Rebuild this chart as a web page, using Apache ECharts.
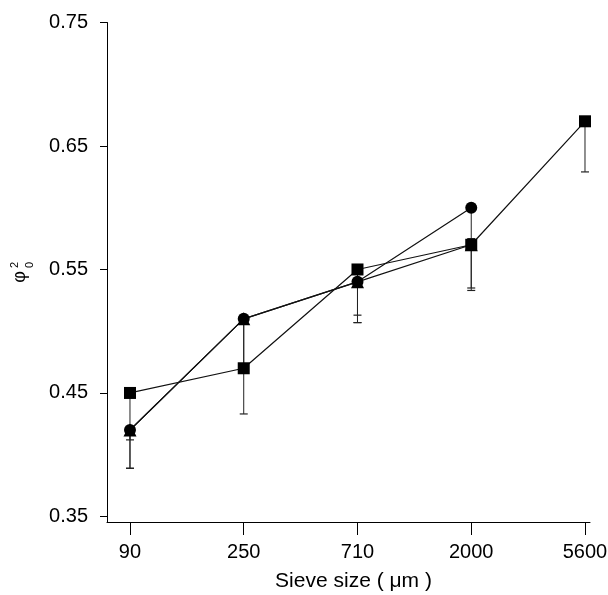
<!DOCTYPE html>
<html>
<head>
<meta charset="utf-8">
<script src="https://cdn.jsdelivr.net/npm/echarts@6/dist/echarts.min.js"></script>
<style>
  html, body { margin: 0; padding: 0; background: #fff; }
  #chart { width: 608px; height: 595px; }
</style>
</head>
<body>
<div id="chart"></div>
<script>
   // 数据部分
   var sieveLabels = ['90', '250', '710', '2000', '5600'];
   var sieveIdx = [0, 1, 2, 3, 4];
   var yTicks = [0.35, 0.45, 0.55, 0.65, 0.75];

   var squareVals = [0.45, 0.47, 0.55, 0.57, 0.67];
   var squareLow = [0.412, 0.433, 0.513, 0.535, 0.629];
   var circleVals = [0.42, 0.51, 0.54, 0.60];
   var circleLow = [0.389, 0.47, 0.507, 0.575];
   var triangleVals = [0.42, 0.51, 0.54, 0.57];
   var triangleLow = [0.389, 0.47, 0.507, 0.533];

   var font = 'Liberation Sans, Arial, sans-serif';

   function pts(vals) {
     return vals.map(function (v, i) { return [sieveIdx[i], v]; });
   }
   function bars(vals, lows) {
     return vals.map(function (v, i) { return [sieveIdx[i], v, lows[i]]; });
   }

   // 误差线 (只画下半部分)
   function errRender(params, api) {
     var top = api.coord([api.value(0), api.value(1)]);
     var low = api.coord([api.value(0), api.value(2)]);
     return {
       type: 'group',
       children: [
         { type: 'line', shape: { x1: top[0], y1: top[1], x2: low[0], y2: low[1] },
           style: { stroke: '#222', lineWidth: 1 } },
         { type: 'line', shape: { x1: low[0] - 4, y1: low[1], x2: low[0] + 4, y2: low[1] },
           style: { stroke: '#222', lineWidth: 1.2 } }
       ]
     };
   }

   function errSeries(vals, lows) {
     return { type: 'custom', renderItem: errRender, data: bars(vals, lows), z: 1, silent: true };
   }

   function lineSeries(vals, symbol, size) {
     return {
       type: 'line',
       data: pts(vals),
       symbol: symbol,
       symbolSize: size,
       showAllSymbol: true,
       lineStyle: { color: '#111', width: 1.2 },
       itemStyle: { color: '#000', borderWidth: 0 },
       z: 3,
       silent: true
     };
   }

   var myChart = echarts.init(document.getElementById('chart'));

   var option = {
     backgroundColor: '#fff',
     animation: false,
     grid: { left: 107, right: 18, top: 22.5, bottom: 73, containLabel: false, outerBoundsMode: 'none' },
     xAxis: {
       type: 'value',
       min: -0.202,
       max: 4.044,
       name: 'Sieve size ( \u03bcm )',
       nameLocation: 'middle',
       nameGap: 49,
       nameTextStyle: { color: '#000', fontSize: 21, fontFamily: font, padding: [0, 0, 0, 10] },
       axisLine: { onZero: false, lineStyle: { color: '#000', width: 1 } },
       axisTick: { show: true, length: 13, customValues: sieveIdx, lineStyle: { color: '#000' } },
       axisLabel: {
         customValues: sieveIdx,
         margin: 20,
         color: '#000',
         fontSize: 20,
         fontFamily: font,
         formatter: function (v) { return sieveLabels[Math.round(v)]; }
       },
       splitLine: { show: false }
     },
     yAxis: {
       type: 'value',
       min: 0.3455,
       max: 0.75,
       axisLine: { show: true, onZero: false, lineStyle: { color: '#000', width: 1 } },
       axisTick: { show: true, length: 7, customValues: yTicks, lineStyle: { color: '#000' } },
       axisLabel: {
         customValues: yTicks,
         margin: 19,
         color: '#000',
         fontSize: 20,
         fontFamily: font,
         formatter: function (v) { return v.toFixed(2); }
       },
       splitLine: { show: false }
     },
     graphic: [{
       type: 'group',
       x: 20, y: 277,
       rotation: Math.PI / 2,
       children: [
         { type: 'text', x: 0, y: 0, style: { text: '\u03c6', fontSize: 18, fontFamily: font, fill: '#000', align: 'center', verticalAlign: 'middle' } },
         { type: 'text', x: 12, y: -5, style: { text: '2', fontSize: 11, fontFamily: font, fill: '#000', align: 'center', verticalAlign: 'middle' } },
         { type: 'text', x: 12, y: 10, style: { text: '0', fontSize: 11, fontFamily: font, fill: '#000', align: 'center', verticalAlign: 'middle' } }
       ]
     }],
     series: [
       errSeries(squareVals, squareLow),
       errSeries(circleVals, circleLow),
       errSeries(triangleVals, triangleLow),
       lineSeries(squareVals, 'rect', 12),
       lineSeries(circleVals, 'circle', 12),
       lineSeries(triangleVals, 'triangle', 13)
     ]
   };

   myChart.setOption(option);
</script>
</body>
</html>
